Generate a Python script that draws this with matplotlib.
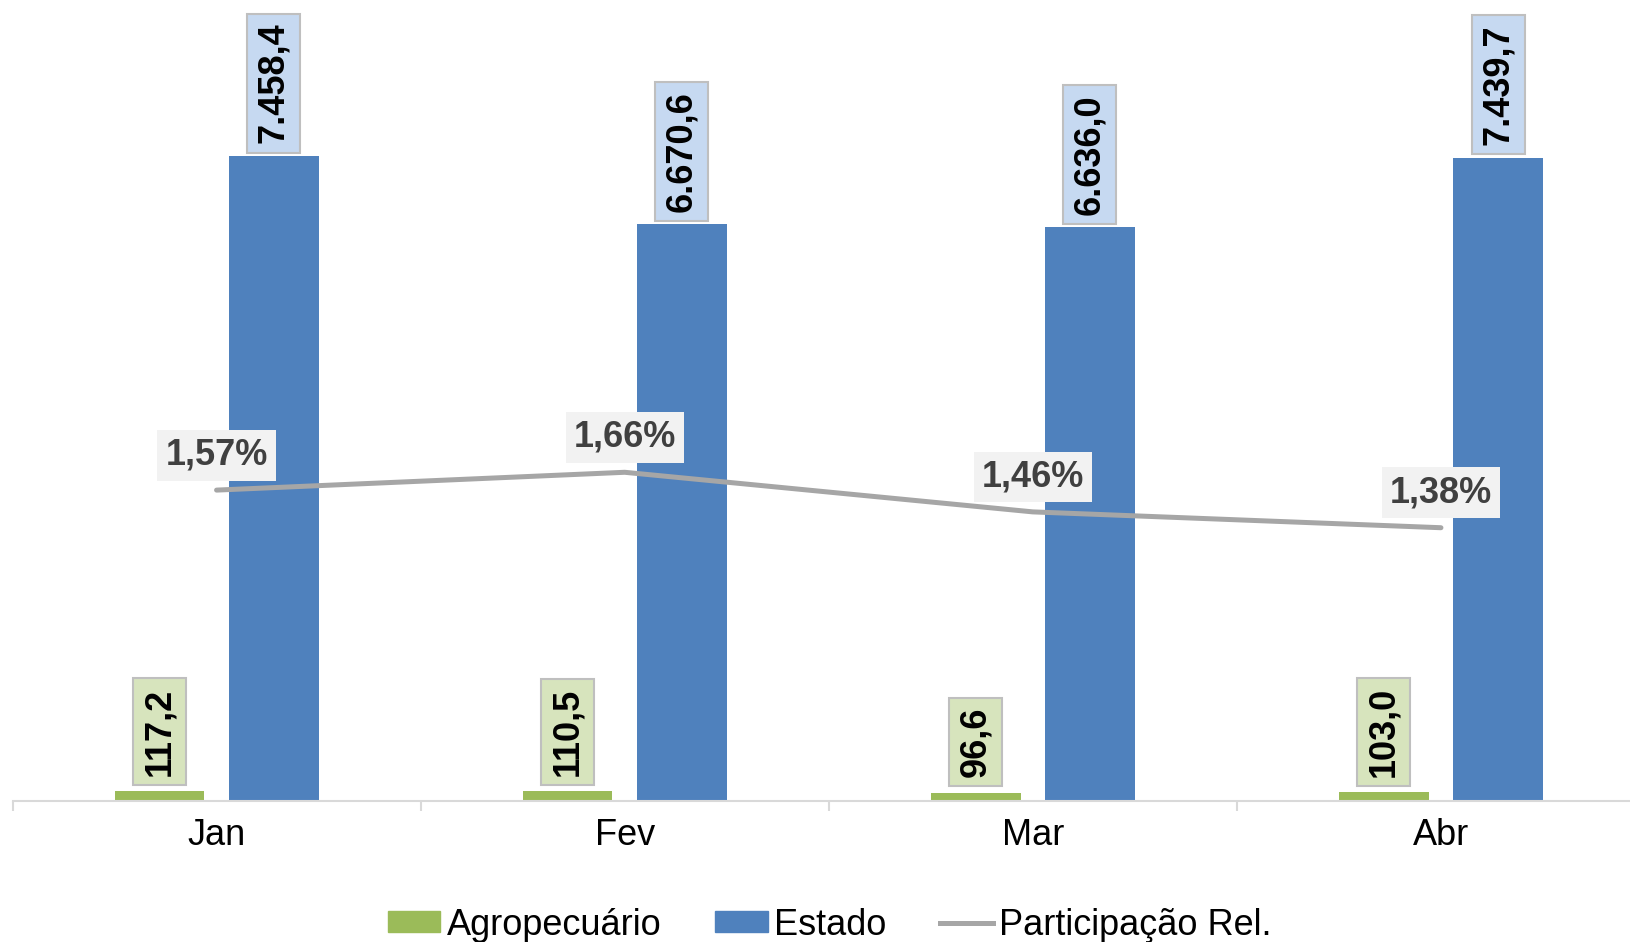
import matplotlib
matplotlib.use("Agg")
import matplotlib.pyplot as plt
from matplotlib.patches import Patch
from matplotlib.lines import Line2D

plt.rcParams['font.family'] = ['Liberation Sans', 'DejaVu Sans']

# dados do gráfico
meses = ["Jan", "Fev", "Mar", "Abr"]
agropecuario = [117.2, 110.5, 96.6, 103.0]
estado = [7458.4, 6670.6, 6636.0, 7439.7]
participacao = [1.57, 1.66, 1.46, 1.38]  # em %

VERDE = "#9BBB59"
AZUL = "#4F81BD"
CINZA = "#A6A6A6"
EIXO = "#D9D9D9"


def fmt_br(v, casas=1):
    # formato brasileiro: ponto para milhar, vírgula para decimal
    s = f"{v:,.{casas}f}"
    return s.replace(",", "X").replace(".", ",").replace("X", ".")


fig = plt.figure(figsize=(16.3, 9.42), dpi=100)
ax = fig.add_axes([12.5 / 1630, 141 / 942, 1632.5 / 1630, 801 / 942])

x = list(range(len(meses)))
largura = 0.22
desloc = 0.14
x_agro = [i - desloc for i in x]
x_est = [i + desloc for i in x]

ax.bar(x_agro, agropecuario, width=largura, color=VERDE, zorder=2)
ax.bar(x_est, estado, width=largura, color=AZUL, zorder=2)

ax.set_xlim(-0.5, len(meses) - 0.5)
ax.set_ylim(0, 9262)

# rótulos das barras
for xi, v in zip(x_agro, agropecuario):
    ax.annotate(fmt_br(v), (xi, v), xytext=(0, 11), textcoords="offset points",
                rotation=90, ha="center", va="bottom", fontsize=26, fontweight="bold",
                color="black", zorder=5,
                bbox=dict(boxstyle="square,pad=0.25", fc="#D7E4BD", ec="#BFBFBF", lw=1.5))
for xi, v in zip(x_est, estado):
    ax.annotate(fmt_br(v), (xi, v), xytext=(0, 9), textcoords="offset points",
                rotation=90, ha="center", va="bottom", fontsize=26, fontweight="bold",
                color="black", zorder=5,
                bbox=dict(boxstyle="square,pad=0.25", fc="#C6D9F1", ec="#BFBFBF", lw=1.5))

# eixo x
ax.set_xticks(x)
ax.set_xticklabels(meses, fontsize=26)
ax.set_xticks([i - 0.5 for i in range(len(meses) + 1)], minor=True)
ax.tick_params(axis="x", which="major", length=0, pad=12)
ax.tick_params(axis="x", which="minor", length=7, width=1.5, color=EIXO)
ax.set_yticks([])
for s in ["top", "right", "left"]:
    ax.spines[s].set_visible(False)
ax.spines["bottom"].set_color(EIXO)
ax.spines["bottom"].set_linewidth(1.5)

# linha de participação (eixo secundário)
ax2 = ax.twinx()
ax2.plot(x, participacao, color=CINZA, lw=3.6, solid_capstyle="round", zorder=3)
ax2.set_ylim(0, 4.045)
ax2.set_yticks([])
for s in ax2.spines.values():
    s.set_visible(False)
for xi, v in zip(x, participacao):
    ax2.annotate(fmt_br(v, 2) + "%", (xi, v), xytext=(0, 12.5), textcoords="offset points",
                 ha="center", va="bottom", fontsize=26, fontweight="bold", color="#404040",
                 bbox=dict(boxstyle="square,pad=0.22", fc="#F2F2F2", ec="none"))

# legenda
handles = [Patch(color=VERDE), Patch(color=AZUL), Line2D([0], [0], color=CINZA, lw=3.6)]
fig.legend(handles, ["Agropecuário", "Estado", "Participação Rel."], loc="center",
           bbox_to_anchor=(0.509, 0.018), ncol=3, frameon=False, fontsize=26,
           handlelength=1.45, handleheight=0.5, handletextpad=0.17, columnspacing=1.5)

fig.savefig("out.png", dpi=100)
plt.close(fig)
